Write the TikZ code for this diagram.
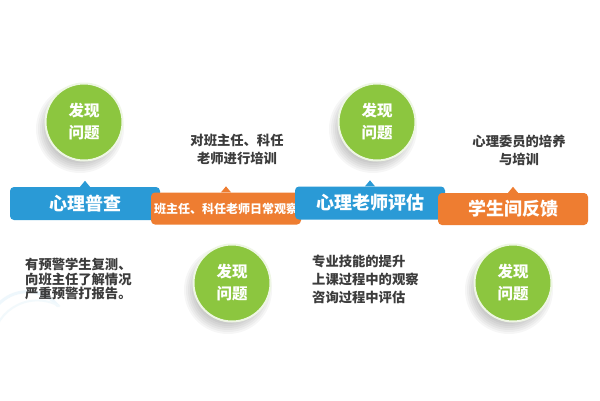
\documentclass[tikz,border=0pt]{standalone}
\usepackage{fontspec}
\setmainfont{Noto Sans CJK SC}
\definecolor{cblue}{HTML}{2A9AD6}
\definecolor{corange}{HTML}{EE7D31}
\definecolor{cgreen}{HTML}{8CC63F}
\definecolor{ctext}{HTML}{3C3C3C}
\definecolor{cring}{HTML}{EEF6E4}
\tikzset{
  boxbase/.style={rounded corners=4pt, text=white, inner sep=0pt, font=\bfseries\fontsize{18}{20}\selectfont},
  bluebox/.style={boxbase, fill=cblue, minimum width=150pt, minimum height=33pt},
  orangebox/.style={boxbase, fill=corange, minimum width=150pt, minimum height=32pt},
  greencirc/.style={circle, fill=cgreen, draw=cring, line width=2pt, minimum size=77pt, inner sep=0pt,
    text=white, align=center, font=\bfseries\fontsize{15.5}{22}\selectfont},
  notetext/.style={text=ctext, inner sep=0pt, font=\bfseries\fontsize{13.3}{18}\selectfont},
}
\newcommand{\softshadow}[2]{%
  \foreach \rr in {30,32,...,44} {\fill[black,opacity=0.035] (#1-4,#2+7) circle (\rr pt);}}
\newcommand{\notch}[2]{\fill[#2] ([xshift=-5pt]#1.north) -- ++(5,-6) -- ++(5,6) -- cycle;}
\begin{document}
\begin{tikzpicture}[x=1pt,y=-1pt]
\useasboundingbox[fill=white] (0,0) rectangle (600,400);
% faint decorative arcs
\draw[cblue!8, line width=3pt] (-10,318) arc[start angle=200, end angle=320, radius=40];
\draw[cblue!6, line width=2pt] (-5,330) arc[start angle=200, end angle=300, radius=45];
% circles with soft shadows
\softshadow{84}{122}
\softshadow{377}{122}
\softshadow{232}{283}
\softshadow{513}{283}
\node[greencirc] (c1) at (84,122) {发现\\问题};
\node[greencirc] (c2) at (377,122) {发现\\问题};
\node[greencirc] (c3) at (232,283) {发现\\问题};
\node[greencirc] (c4) at (513,283) {发现\\问题};
% boxes
\node[bluebox] (b1) at (85,203.5) {心理普查};
\notch{b1}{cblue}
\node[orangebox, font=\bfseries\fontsize{12}{14}\selectfont] (o1) at (226,208.5) {班主任、科任老师日常观察};
\notch{o1}{corange}
\node[bluebox] (b2) at (370,203) {心理老师评估};
\notch{b2}{cblue}
\node[orangebox] (o2) at (513,209) {学生间反馈};
\notch{o2}{corange}
% texts
\node[notetext, align=center] (t1) at (237,149) {对班主任、科任\\老师进行培训};
\node[notetext, align=center] (t2) at (519,150) {心理委员的培养\\与培训};
\node[notetext, align=left, anchor=north west, font=\bfseries\fontsize{13.3}{14.5}\selectfont] (t3) at (25,258) {有预警学生复测、\\向班主任了解情况\\严重预警打报告。};
\node[notetext, align=left, anchor=north west] (t4) at (312,255) {专业技能的提升\\上课过程中的观察\\咨询过程中评估};
\end{tikzpicture}
\end{document}
